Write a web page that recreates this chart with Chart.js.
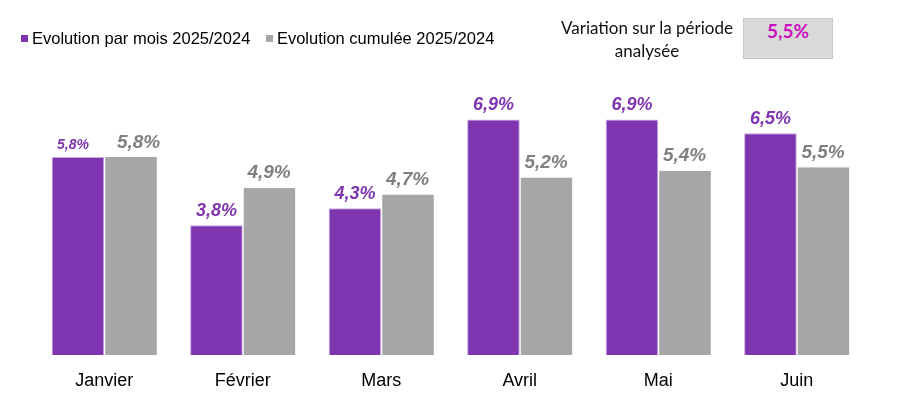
<!DOCTYPE html>
<html lang="fr">
<head>
<meta charset="utf-8">
<script src="https://cdn.jsdelivr.net/npm/chart.js@4"></script>
<style>
  html, body { margin: 0; padding: 0; background: #fff; }
  #wrap { position: relative; width: 900px; height: 399px; }
  #legende { position: absolute; left: 21px; top: 29px; font: 16.5px "Liberation Sans", Arial, sans-serif; color: #000; white-space: nowrap; }
  #legende span.item { margin-right: 11px; }
  #legende i { display: inline-block; width: 7px; height: 7px; margin-right: 4px; vertical-align: 2px; }
  #variation { position: absolute; left: 547px; top: 16px; width: 200px; text-align: center; font: 17px Lato, "Open Sans", sans-serif; line-height: 23px; color: #111; }
  #valeur { position: absolute; left: 743px; top: 18px; width: 88px; height: 39px; background: #d9d9d9; border: 1px dotted #b5b5b5; text-align: center; line-height: 39px; font: bold 19px Lato, "Open Sans", sans-serif; color: #cc0fbf; }
</style>
</head>
<body>
<div id="wrap">
  <canvas id="graphique" width="900" height="399"></canvas>
  <div id="legende">
    <span class="item"><i style="background:#7f35b0"></i>Evolution par mois 2025/2024</span>
    <span class="item"><i style="background:#a6a6a6"></i>Evolution cumulée 2025/2024</span>
  </div>
  <div id="variation">Variation sur la période<br>analysée</div>
  <div id="valeur">5,5%</div>
</div>
<script>
// --- DONNÉES ---
const mois = ['Janvier', 'Février', 'Mars', 'Avril', 'Mai', 'Juin'];
const evolutionMensuelle = [5.8, 3.8, 4.3, 6.9, 6.9, 6.5];
const evolutionCumulee = [5.8, 4.9, 4.7, 5.2, 5.4, 5.5];
const tailleEtiquettesMensuelles = [14, 18, 18, 18, 18, 18];

const formatPct = v => v.toFixed(1).replace('.', ',') + '%';

// Étiquettes de valeur au-dessus des barres
const etiquettesPlugin = {
    id: 'etiquettes',
    afterDatasetsDraw(chart) {
        const ctx = chart.ctx;
        ctx.save();
        ctx.textAlign = 'center';
        ctx.textBaseline = 'bottom';
        chart.data.datasets.forEach((ds, di) => {
            const meta = chart.getDatasetMeta(di);
            meta.data.forEach((bar, i) => {
                const taille = di === 0 ? tailleEtiquettesMensuelles[i] : 19;
                ctx.font = 'italic bold ' + taille + 'px "Liberation Sans", Arial, sans-serif';
                ctx.fillStyle = di === 0 ? '#7f35b0' : '#808080';
                // l'étiquette de janvier est un peu décalée dans l'original
                const dx = i === 0 ? (di === 0 ? -5 : 8) : 0;
                ctx.fillText(formatPct(ds.data[i]), bar.x + dx, bar.y - 5);
            });
        });
        ctx.restore();
    }
};

new Chart(document.getElementById('graphique'), {
    type: 'bar',
    data: {
        labels: mois,
        datasets: [{
            label: 'Evolution par mois 2025/2024',
            data: evolutionMensuelle,
            backgroundColor: '#7f35b0',
            borderColor: '#c9a9e0',
            borderWidth: 1
        }, {
            label: 'Evolution cumulée 2025/2024',
            data: evolutionCumulee,
            backgroundColor: '#a6a6a6',
            borderColor: '#ffffff',
            borderWidth: { left: 1 }
        }]
    },
    options: {
        responsive: false,
        animation: false,
        events: [],
        layout: { padding: { left: 35, right: 34, top: 99, bottom: 0 } },
        categoryPercentage: 0.76,
        barPercentage: 1,
        plugins: {
            legend: { display: false },
            tooltip: { enabled: false }
        },
        scales: {
            y: { display: false, min: 0, max: 7.5 },
            x: {
                afterFit: (scale) => { scale.height = 44; },
                grid: { display: false, drawTicks: false },
                border: { display: false },
                ticks: { color: '#000', padding: 15, font: { size: 18, family: '"Liberation Sans", Arial, sans-serif' } }
            }
        }
    },
    plugins: [etiquettesPlugin]
});
</script>
</body>
</html>
